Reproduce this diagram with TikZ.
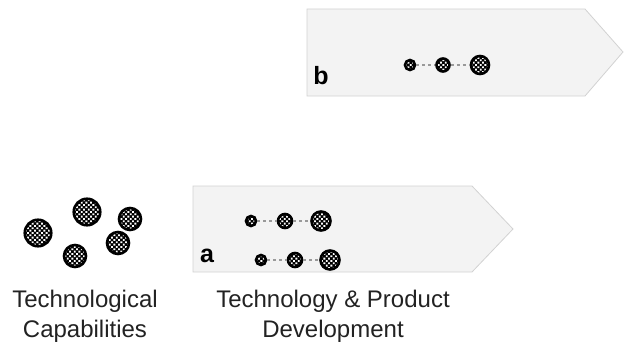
\documentclass[tikz,border=0pt]{standalone}
\usepackage{fontspec}
\setmainfont{Liberation Sans}
\usetikzlibrary{patterns.meta}
\definecolor{stagefill}{HTML}{F3F3F3}
\definecolor{stageline}{HTML}{D2D2D2}
\definecolor{captext}{HTML}{222222}

\begin{document}
\begin{tikzpicture}[x=1pt,y=-1pt,
    capab/.style={circle, draw=black, line width=2.6pt, inner sep=0pt,
        preaction={fill=black}, pattern={Dots[radius=1.3pt, distance=3.3pt, angle=45]}, pattern color=white},
    link/.style={draw=gray!80, dashed, line width=1.1pt},
    stage/.style={fill=stagefill, draw=stageline, line width=0.8pt},
    caption/.style={text=captext, font=\fontsize{24}{30}\selectfont, align=center},
    tag/.style={font=\fontsize{25}{28}\selectfont\bfseries}]
        \useasboundingbox (0,0) rectangle (624,345);

        \draw[stage] (307,9) -- (585,9) -- (623,52) -- (585,96) -- (307,96) -- cycle;
        \draw[stage] (193,186) -- (472,186) -- (513,229) -- (472,272) -- (193,272) -- cycle;

        \node[tag] (b) at (321,76) {b};
        \node[tag] (a) at (207,256) {a};

        % left group
        \node[capab, minimum size=26.5pt] (c1) at (38,233) {};
        \node[capab, minimum size=26.5pt] (c2) at (87,212) {};
        \node[capab, minimum size=22pt] (c3) at (130,219) {};
        \node[capab, minimum size=22pt] (c4) at (75,256) {};
        \node[capab, minimum size=22pt] (c5) at (118,243) {};

        % stage a
        \node[capab, minimum size=10pt] (a1) at (251,221) {};
        \node[capab, minimum size=14pt] (a2) at (285,221) {};
        \node[capab, minimum size=19pt] (a3) at (321,221) {};
        \node[capab, minimum size=10pt] (a4) at (261,260) {};
        \node[capab, minimum size=14pt] (a5) at (295,260) {};
        \node[capab, minimum size=19pt] (a6) at (330,260) {};
        \draw[link] (a1) -- (a2);
        \draw[link] (a2) -- (a3);
        \draw[link] (a4) -- (a5);
        \draw[link] (a5) -- (a6);

        % stage b
        \node[capab, minimum size=10pt] (b1) at (410,65) {};
        \node[capab, minimum size=13pt] (b2) at (443,65) {};
        \node[capab, minimum size=18pt] (b3) at (480,65) {};
        \draw[link] (b1) -- (b2);
        \draw[link] (b2) -- (b3);

        \node[caption] (tc) at (85,316) {Technological\\Capabilities};
        \node[caption] (tp) at (333,316) {Technology \& Product\\Development};
    \end{tikzpicture}
\end{document}
